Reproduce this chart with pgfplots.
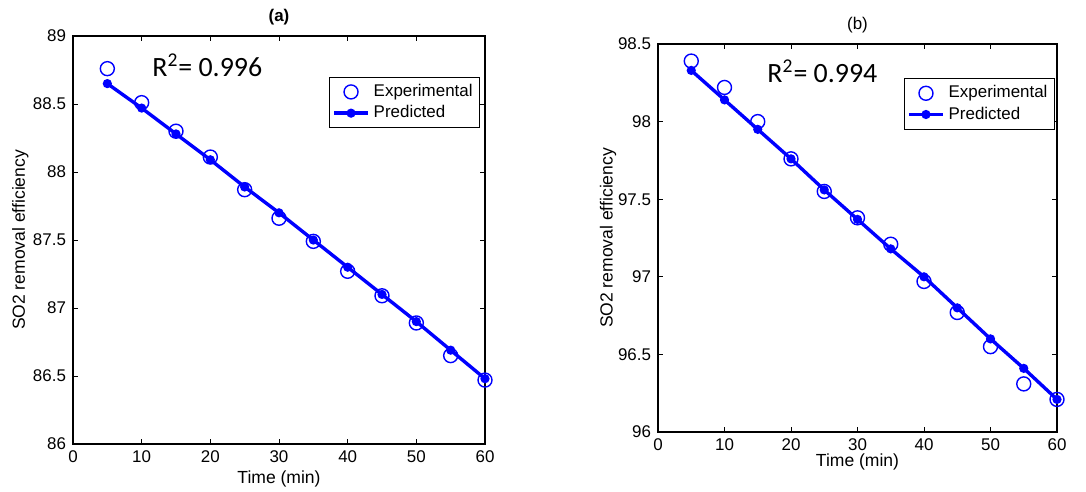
\documentclass[border=0pt]{standalone}
\usepackage{fontspec}
\setmainfont{Liberation Sans}
\newfontfamily\carlito{Carlito}
\usepackage{pgfplots}
\pgfplotsset{compat=1.18}

\pgfplotsset{
  mstyle/.style={
    scale only axis, xmin=0, xmax=60, xtick={0,10,...,60},
    tick align=inside, major tick length=2.5bp,
    tick style={black, line width=0.5bp},
    axis line style={black, line width=0.6bp},
    tick label style={font=\fontsize{8.5}{10}\selectfont},
    /pgf/number format/assume math mode=true,
    xlabel={Time (min)}, ylabel={SO2 removal efficiency},
    label style={font=\fontsize{8.8}{10}\selectfont},
    every axis title shift=0pt,
    title style={font=\fontsize{8.5}{10}\selectfont, at={(0.5,1)}, anchor=south, yshift=2bp},
    legend style={draw=black, line width=0.5bp, fill=white, anchor=north east,
      font=\fontsize{8.5}{10}\selectfont, inner sep=1.5bp, row sep=-1bp},
    legend cell align=left,
  },
  expstyle/.style={only marks, blue, mark=o, mark size=3.5bp, line width=0.7bp},
  predstyle/.style={blue, line width=1.7bp, mark=*, mark size=1.4bp},
}

\begin{document}
\begin{tikzpicture}
\useasboundingbox (0,0) rectangle (543bp,-246bp);

% (a)
\begin{axis}[mstyle, at={(36.5bp,-222bp)}, anchor=south west,
  width=206bp, height=204bp, ymin=86, ymax=89, ytick={86,86.5,...,89},
  title={\textbf{(a)}},
  ylabel style={at={(axis description cs:-0.128,0.5)}, anchor=center},
  xlabel style={at={(axis description cs:0.5,-0.085)}, anchor=center},
  legend style={at={(0.988,0.9)}}]
\addplot[expstyle] coordinates {(5,88.76) (10,88.51) (15,88.30) (20,88.11) (25,87.87) (30,87.66)
  (35,87.49) (40,87.27) (45,87.09) (50,86.89) (55,86.65) (60,86.47)};
\addplot[predstyle] coordinates {(5,88.65) (10,88.47) (15,88.28) (20,88.09) (25,87.89) (30,87.70)
  (35,87.50) (40,87.30) (45,87.10) (50,86.90) (55,86.69) (60,86.48)};
\legend{Experimental, Predicted}
\node[anchor=base west, inner sep=0, font=\carlito\fontsize{14}{16}\selectfont]
  at (axis cs:11.5,88.70) {R\textsuperscript{2}= 0.996};
\end{axis}

% (b)
\begin{axis}[mstyle, at={(329bp,-216bp)}, anchor=south west,
  width=199.5bp, height=194bp, ymin=96, ymax=98.5, ytick={96,96.5,...,98.5},
  title={(b)},
  ylabel style={at={(axis description cs:-0.125,0.5)}, anchor=center},
  xlabel style={at={(axis description cs:0.5,-0.078)}, anchor=center},
  legend style={at={(0.995,0.912)}}]
\addplot[expstyle] coordinates {(5,98.39) (10,98.22) (15,98.00) (20,97.76) (25,97.55) (30,97.38)
  (35,97.21) (40,96.97) (45,96.77) (50,96.55) (55,96.31) (60,96.21)};
\addplot[predstyle] coordinates {(5,98.33) (10,98.14) (15,97.95) (20,97.76) (25,97.56) (30,97.37)
  (35,97.18) (40,97.00) (45,96.80) (50,96.60) (55,96.41) (60,96.21)};
\legend{Experimental, Predicted}
\node[anchor=base west, inner sep=0, font=\carlito\fontsize{14}{16}\selectfont]
  at (axis cs:16.4,98.25) {R\textsuperscript{2}= 0.994};
\end{axis}
\end{tikzpicture}
\end{document}
